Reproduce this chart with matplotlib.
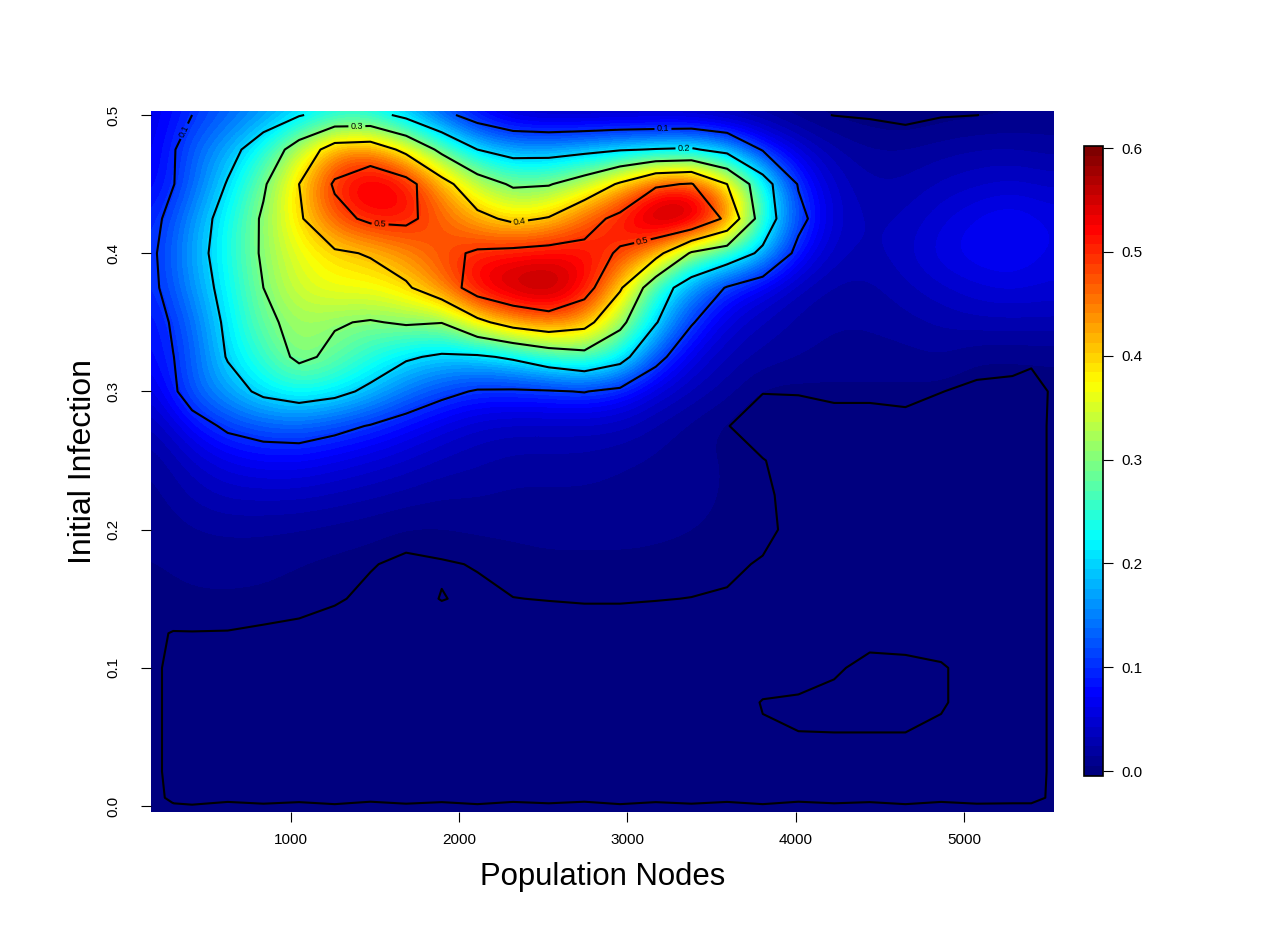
import numpy as np
import matplotlib
matplotlib.use("Agg")
import matplotlib.pyplot as plt
from matplotlib.colors import LinearSegmentedColormap

plt.rcParams['font.family'] = ['Liberation Sans', 'DejaVu Sans']

# Values, in percent, one list per Initial Infection level (top to bottom)
population_nodes = [200, 412, 624, 836, 1048, 1260, 1472, 1684, 1896, 2108, 2320, 2532, 2744,
                    2956, 3168, 3380, 3592, 3804, 4016, 4228, 4440, 4652, 4864, 5076, 5288, 5500]
initial_infection = [0.5, 0.475, 0.45, 0.425, 0.4, 0.375, 0.35, 0.325, 0.3, 0.275, 0.25,
                     0.225, 0.2, 0.175, 0.15, 0.125, 0.1, 0.075, 0.05, 0.025, 0.0]

r0500 = [6,10,13,16,19.5,23,23,18,12,7,4,3,3,3,3,3,2,1.5,.5,-.05,-.2,-.6,-.15,-.02,.3,.5]
r0475 = [6.5,13,17.5,24,34,44,45,38,28,20,17,17,18,19.5,20.3,20.8,17.5,9.5,5,2.5,1.5,1.5,2,2.5,2.5,2]
r0450 = [7,13,20.5,29,40,51,55.5,53,43,34,29,29.5,34,41,49,50.5,40,24,9.5,4,2.5,2.5,3.5,4,4.5,4]
r0425 = [9,16,23,31,39,47.5,51.5,51.5,47,42,38.5,40.5,47,52,59,59.5,48,25,12,4.5,3,3.5,5,6.5,7.5,6]
r0400 = [9.9,17,23.5,31,36,39,40.5,44,48,51,52,52.8,52,49.5,43,29,25,18.5,8,3.5,3,4,6,7,7.5,6]
r0375 = [9.5,16,22.5,30,35,37,37,39,45,54,57,58.5,53.5,41,24,16,9.5,6,3,2,2,3,4,5,5.5,5]
r0350 = [8,13.5,21.5,28.5,32,30.5,29.5,30.8,30.2,38,43.5,46,43,32,20.5,10.5,5,3,2,1.5,1.5,2,2.5,3,3,3]
r0325 = [7.5,12.5,20.5,25.5,31.5,28.5,24.5,20.8,19,19,21,24.5,27,23,12,5.5,3,2,1.5,1,1,1,1.5,.4,.5,.5]
r0300 = [5.5,13,17,21.5,23.5,22,18.5,14.5,11.5,9.5,9.3,9.6,10.2,8.5,5,3,1.8,.03,.05,.25,.25,.25,.02,-.2,-.4,.02]
r0275 = [3,7.5,11,12.5,13,11.5,9.7,7.5,5.5,4,3.5,3.5,3.5,3.3,2,1,.03,-.4,-.4,-.5,-.5,-.3,-.5,-.5,-.5,.02]
r0250 = [1.5,4,6,7,7,6,5,4,3,2.5,2,2,2,1.5,1.2,.8,.4,.03,-.3,-.5,-.5,-.5,-.5,-.5,-.5,.02]
r0225 = [1,2.5,3.5,3.5,3.5,3,2.5,2,1.5,1.5,1.2,1.2,1.2,1.1,.9,.7,.4,.1,-.2,-.5,-.5,-.5,-.5,-.5,-.5,.02]
r0200 = [.7,1.3,1.5,1.5,1.3,1,.7,.2,.3,.5,.6,.7,.7,.7,.6,.5,.3,.15,-.2,-.5,-.5,-.5,-.5,-.5,-.5,.02]
r0175 = [.4,.7,.8,.7,.4,.2,.03,-.1,-.05,.03,.2,.3,.3,.3,.3,.2,.1,-.05,-.2,-.5,-.5,-.5,-.5,-.5,-.5,.02]
r0150 = [.2,.35,.35,.3,.2,.05,-.1,-.2,.02,-.1,-.01,.02,.05,.05,.02,-.01,-.05,-.3,-.5,-.5,-.5,-.5,-.5,-.5,-.5,.02]
r0125 = [.05,-.02,-.03,-.1,-.15,-.2,-.3,-.3,-.3,-.3,-.3,-.3,-.3,-.3,-.3,-.3,-.3,-.3,-.3,-.3,-.25,-.25,-.25,-.3,-.5,.02]
r0100 = [.1,-.5,-.5,-.5,-.5,-.5,-.5,-.5,-.5,-.5,-.5,-.5,-.5,-.5,-.5,-.5,-.5,-.5,-.5,-.1,.2,.15,.05,-.2,-.5,.02]
r0075 = [.1,-.5,-.5,-.5,-.5,-.5,-.5,-.5,-.5,-.5,-.5,-.5,-.5,-.5,-.5,-.5,-.5,.05,.15,.2,.2,.2,.05,-.2,-.5,.02]
r0050 = [.1,-.5,-.5,-.5,-.5,-.5,-.5,-.5,-.5,-.5,-.5,-.5,-.5,-.5,-.5,-.5,-.5,-.1,-.03,-.03,-.03,-.03,-.1,-.5,-.5,.02]
r0025 = [.1,-.5,-.5,-.5,-.5,-.5,-.5,-.5,-.5,-.5,-.5,-.5,-.5,-.5,-.5,-.5,-.5,-.5,-.5,-.5,-.5,-.5,-.5,-.5,-.5,.02]
r0000 = [.05,.02,.1,.04,.09,.03,.11,.04,.09,.03,.1,.05,.11,.03,.09,.04,.1,.03,.11,.05,.09,.03,.1,.04,.05,.02]

# Extra readings near the plot's edges, used by the contour lines only
edge_row_y = 0.006
edge_row = [.1,-.1,-.1,-.1,-.1,-.1,-.1,-.1,-.1,-.1,-.1,-.1,-.1,-.1,-.1,-.1,-.1,-.1,-.1,-.1,-.1,-.1,-.1,-.1,-.1,.02]
edge_col_left_x = 300
edge_col_left = [8,9.6,9.8,12,13,12.5,10.7,9.9,9.1,5,2.7,1.7,1,.55,.28,-.02,-.2,-.2,-.2,-.2,-.1,.05]
edge_col_right_x = 5400
edge_col_right = [.4,2.2,4.2,6.5,6.7,5.2,3,.5,-1,-.2,-.2,-.2,-.2,-.2,-.2,-.2,-.2,-.2,-.2,-.2,-.1,.05]

contour_levels = [0.0, 0.1, 0.2, 0.3, 0.4, 0.5]
x_ticks = [1000, 2000, 3000, 4000, 5000]
y_ticks = [0.0, 0.1, 0.2, 0.3, 0.4, 0.5]
bar_ticks = [0.0, 0.1, 0.2, 0.3, 0.4, 0.5, 0.6]
palette = ["#00007F", "#0000FF", "#007FFF", "#00FFFF", "#7FFF7F",
           "#FFFF00", "#FF7F00", "#FF0000", "#7F0000"]
label_spots = [(370, .488), (1392, .489), (3211, .488), (3336, .475),
               (2355, .426), (1529, .42), (3092, .407)]

rows = [r0500, r0475, r0450, r0425, r0400, r0375, r0350, r0325, r0300, r0275, r0250,
        r0225, r0200, r0175, r0150, r0125, r0100, r0075, r0050, r0025, r0000]
Z = np.array(rows[::-1], dtype=float) / 100.0
X = np.array(population_nodes, dtype=float)
Y = np.array(initial_infection[::-1], dtype=float)

# Contour table: the same readings plus the edge readings
Zc = np.insert(Z, 1, np.array(edge_row) / 100.0, axis=0)
Yc = np.insert(Y, 1, edge_row_y)
Zc = np.insert(Zc, 1, np.array(edge_col_left[::-1]) / 100.0, axis=1)
Zc = np.insert(Zc, -1, np.array(edge_col_right[::-1]) / 100.0, axis=1)
Xc = np.insert(X, 1, edge_col_left_x)
Xc = np.insert(Xc, -1, edge_col_right_x)

W, H = 1286, 950
fig = plt.figure(figsize=(W / 100, H / 100), dpi=100, facecolor='white')
ax = fig.add_axes([151 / W, 1 - 812 / H, 903 / W, 701 / H])

cmap = LinearSegmentedColormap.from_list("jetR", palette, N=64)
dx, dy = (X[1] - X[0]) / 2, (Y[1] - Y[0]) / 2
im = ax.imshow(Z, origin='lower', aspect='auto', cmap=cmap, vmin=-0.0048, vmax=0.602,
               extent=(X[0] - dx, X[-1] + dx, Y[0] - dy, Y[-1] + dy),
               interpolation='bicubic')
cs = ax.contour(Xc, Yc, Zc, levels=contour_levels, colors='black', linewidths=1.5)
ax.clabel(cs, manual=label_spots, inline=True, fontsize=6.5, fmt='%.1f', inline_spacing=2)

ax.set_xlim(168, 5535)
ax.set_ylim(-0.0043, 0.5029)
for s in ax.spines.values():
    s.set_visible(False)
ax.set_xticks(x_ticks)
ax.set_yticks(y_ticks)
ax.set_yticklabels([f"{v:.1f}" for v in y_ticks], rotation=90, va='center')
ax.tick_params(axis='both', length=7, width=0.8, labelsize=11)
ax.tick_params(axis='x', pad=8)
ax.tick_params(axis='y', pad=15)
ax.set_xlabel("Population Nodes", fontsize=22.4, labelpad=11)
ax.set_ylabel("Initial Infection", fontsize=23, labelpad=6)

cax = fig.add_axes([1084 / W, 1 - 776 / H, 19 / W, 630 / H])
cb = fig.colorbar(im, cax=cax, ticks=bar_ticks)
cb.ax.set_yticklabels([f"{v:.1f}" for v in bar_ticks])
cb.ax.tick_params(length=7, width=0.8, labelsize=11, pad=6)
cb.outline.set_linewidth(1.2)

fig.savefig("out.png", dpi=100)
